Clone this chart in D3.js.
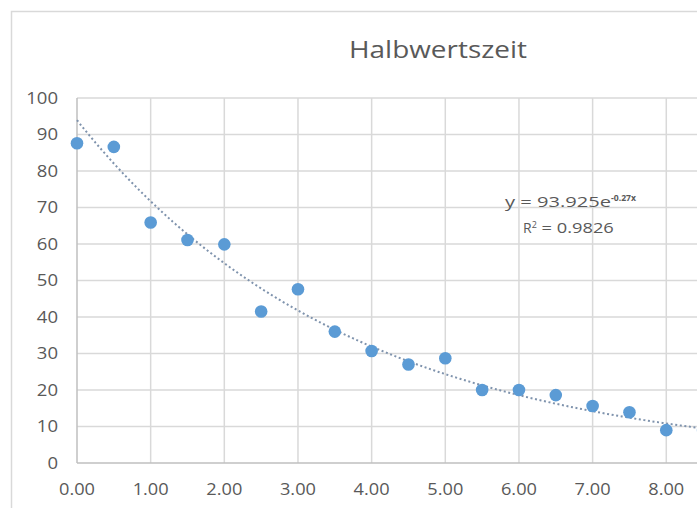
<!DOCTYPE html>
<html><head><meta charset="utf-8">
<script src="https://cdn.jsdelivr.net/npm/d3@7"></script>
<style>html,body{margin:0;padding:0;background:#fff;overflow:hidden}</style>
</head><body>
<svg id="c" width="697" height="508"></svg>
<script>
const title = "Halbwertszeit";
const xValues = [0,0.5,1,1.5,2,2.5,3,3.5,4,4.5,5,5.5,6,6.5,7,7.5,8,8.5];
const yValues = [87.6,86.6,65.9,61.1,59.9,41.5,47.6,36.0,30.7,27.0,28.7,20.0,20.0,18.6,15.6,13.9,9.0,9.0];
const xTicks = [0,1,2,3,4,5,6,7,8];
const xGrid = [1,2,3,4,5,6,7,8,9];
const yTicks = [0,10,20,30,40,50,60,70,80,90,100];
const trendA = 93.925, trendB = -0.27;
const eqText = "y = 93.925e", eqExp = "-0.27x", r2Text = "0.9826";

const svg = d3.select("#c");
const font = "'Open Sans', 'Liberation Sans', sans-serif";
const grey = "#595959";

// chart border
svg.append("path").attr("d","M11.5,508 L11.5,11.5 L697,11.5")
  .attr("fill","none").attr("stroke","#d9d9d9").attr("stroke-width",1.5);

const x = d3.scaleLinear().domain([0,9]).range([77, 77+9*73.66]);
const y = d3.scaleLinear().domain([0,100]).range([463, 98]);

// gridlines
svg.append("g").selectAll("line").data(yTicks.filter(d=>d>0)).join("line")
  .attr("x1",x(0)).attr("x2",x(9)).attr("y1",d=>y(d)).attr("y2",d=>y(d))
  .attr("stroke","#d9d9d9").attr("stroke-width",1.5);
svg.append("g").selectAll("line").data(xGrid).join("line")
  .attr("x1",d=>x(d)).attr("x2",d=>x(d)).attr("y1",y(0)).attr("y2",y(100))
  .attr("stroke","#d9d9d9").attr("stroke-width",1.5);

// axes lines
svg.append("line").attr("x1",x(0)).attr("x2",x(0)).attr("y1",y(0)).attr("y2",y(100))
  .attr("stroke","#bfbfbf").attr("stroke-width",1.5);
svg.append("line").attr("x1",x(0)).attr("x2",x(9)).attr("y1",y(0)).attr("y2",y(0))
  .attr("stroke","#bfbfbf").attr("stroke-width",1.5);

// y tick labels
svg.append("g").selectAll("text").data(yTicks).join("text")
  .attr("x",58).attr("y",d=>y(d)).attr("dy","0.36em").attr("text-anchor","end")
  .attr("font-family",font).attr("font-size",15.5).attr("fill",grey)
  .attr("textLength",d=>String(d).length*10.6).attr("lengthAdjust","spacingAndGlyphs")
  .text(d=>d);
// x tick labels
svg.append("g").selectAll("text").data(xTicks).join("text")
  .attr("x",d=>x(d)).attr("y",489).attr("dy","0.36em").attr("text-anchor","middle")
  .attr("font-family",font).attr("font-size",15.5).attr("fill",grey)
  .attr("textLength",36).attr("lengthAdjust","spacingAndGlyphs")
  .text(d=>d3.format(".2f")(d));

// trendline
const tx = d3.range(0, 9.001, 0.05);
svg.append("path").datum(tx)
  .attr("d", d3.line().x(d=>x(d)).y(d=>y(trendA*Math.exp(trendB*d))))
  .attr("fill","none").attr("stroke","#7f93ad").attr("stroke-width",2)
  .attr("stroke-dasharray","2,2.6");

// points
svg.append("g").selectAll("circle").data(xValues.map((v,i)=>[v,yValues[i]])).join("circle")
  .attr("cx",d=>x(d[0])).attr("cy",d=>y(d[1])).attr("r",6.3)
  .attr("fill","#5b9bd5");

// title
svg.append("text").attr("x",438).attr("y",50).attr("dy","0.35em").attr("text-anchor","middle")
  .attr("font-family",font).attr("font-size",23).attr("fill",grey)
  .attr("textLength",178).attr("lengthAdjust","spacingAndGlyphs").text(title);

// equation
const eq = svg.append("text").attr("x",505).attr("y",207)
  .attr("font-family",font).attr("font-size",14).attr("fill",grey);
eq.append("tspan").attr("textLength",106).attr("lengthAdjust","spacingAndGlyphs").text(eqText);
eq.append("tspan").attr("dy",-6).attr("font-size",9.5).attr("font-weight","bold")
  .attr("textLength",25).attr("lengthAdjust","spacingAndGlyphs").text(eqExp);
const r2 = svg.append("text").attr("x",523).attr("y",233)
  .attr("font-family",font).attr("font-size",14).attr("fill",grey);
r2.append("tspan").text("R");
r2.append("tspan").attr("dy",-5).attr("font-size",9).text("2");
r2.append("tspan").attr("dy",5).attr("textLength",77).attr("lengthAdjust","spacingAndGlyphs").text(" = " + r2Text);
</script>
</body></html>
